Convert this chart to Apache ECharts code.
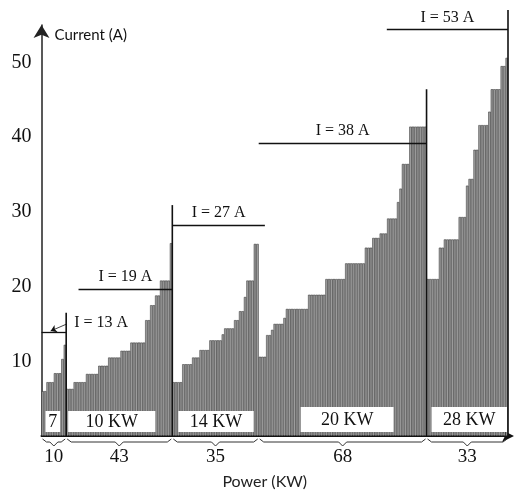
<!DOCTYPE html>
<html>
<head>
<meta charset="utf-8">
<script src="https://cdn.jsdelivr.net/npm/echarts@6/dist/echarts.min.js"></script>
<style>
  html, body { margin: 0; padding: 0; background: #fff; }
  #chart { width: 516px; height: 495px; }
</style>
</head>
<body>
<div id="chart"></div>
<script>
// current of every test, read group by group off the scan (A)
var group1 = [6, 6, 7.2, 7.2, 7.2, 8.4, 8.4, 8.4, 10.3, 12.2];
var group2 = [6.3, 6.3, 6.3, 7.2, 7.2, 7.2, 7.2, 7.2, 8.3, 8.3, 8.3, 8.3, 8.3,
  9.4, 9.4, 9.4, 9.4, 10.5, 10.5, 10.5, 10.5, 10.5, 11.4, 11.4, 11.4, 11.4,
  12.5, 12.5, 12.5, 12.5, 12.5, 12.5, 15.5, 15.5, 17.5, 17.5, 18.8, 18.8,
  20.8, 20.8, 20.8, 20.8, 25.8];
var group3 = [7.2, 7.2, 7.2, 7.2, 9.6, 9.6, 9.6, 9.6, 10.5, 10.5, 10.5,
  11.5, 11.5, 11.5, 11.5, 12.8, 12.8, 12.8, 12.8, 12.8, 13.6, 14.4, 14.4, 14.4, 14.4,
  15.5, 15.5, 16.7, 16.7, 18.6, 20.8, 20.8, 20.8, 25.7, 25.7];
var group4 = [10.6, 10.6, 10.6, 13.5, 13.5, 14.2, 15, 15, 15, 15, 15.8,
  17, 17, 17, 17, 17, 17, 17, 17, 17, 18.9, 18.9, 18.9, 18.9, 18.9, 18.9, 18.9,
  21, 21, 21, 21, 21, 21, 21, 21, 23.1, 23.1, 23.1, 23.1, 23.1, 23.1, 23.1, 23.1,
  25.2, 25.2, 25.2, 26.5, 26.5, 26.5, 27.1, 27.1, 27.1, 29.1, 29.1, 29.1, 29.1,
  31.3, 33.1, 36.4, 36.4, 36.4, 41.4, 41.4, 41.4, 41.4, 41.4, 41.4, 41.4];
var group5 = [21, 21, 21, 21, 21, 25.2, 25.2, 26.3, 26.3, 26.3, 26.3, 26.3, 26.3,
  29.3, 29.3, 29.3, 33.5, 34.4, 34.4, 38.3, 38.3, 41.6, 41.6, 41.6, 41.6, 43.4,
  46.4, 46.4, 46.4, 46.4, 49.5, 49.5, 50.6];

var groupSizes = [10, 43, 35, 68, 33];
var groupPower = ['7', '10 KW', '14 KW', '20 KW', '28 KW'];
var groupPeaks = [16.5, 30.9, 0, 46.4, 57];   // tall marker at the end of a group (0 = none)

var limitNames = ['I = 13 A', 'I = 19 A', 'I = 27 A', 'I = 38 A', 'I = 53 A'];
var limitLevels = [13.9, 19.7, 28.2, 39.2, 54.4];
var limitFrom = [-0.5, 14.5, 52.5, 87.5, 139.4];   // in bar numbers
var limitTo = [9.5, 52.5, 90, 155.5, 188.5];

var currentTicks = [10, 20, 30, 40, 50];

var values = group1.concat(group2, group3, group4, group5);
var categories = values.map(function (v, i) { return String(i + 1); });

// first / last bar of each group
var groupRanges = [];
var k = 0;
groupSizes.forEach(function (n) { groupRanges.push([k, k + n - 1]); k += n; });

// white label boxes: px inset from the group's left / right edge, px height
var boxInset = [[4, 6], [2, 17], [6, 5], [42, 33], [5, 1]];
var boxHeight = [25, 25, 25, 29, 29];

var serif = '"Liberation Serif", "Times New Roman", serif';

function renderGroup(params, api) {
  var i = params.dataIndex;
  var left = api.coord([api.value(0) - 0.5, 0])[0];
  var right = api.coord([api.value(1) + 0.5, 0])[0];
  var base = api.coord([0, 0])[1];
  var bx0 = left + boxInset[i][0], bx1 = right - boxInset[i][1];
  var by0 = base - boxHeight[i], by1 = base - 4;
  var mid = (left + right) / 2;
  var y0 = base + 3;
  var l = left + 1, r = right - 1;
  var kids = [
    { type: 'rect', shape: { x: bx0, y: by0, width: bx1 - bx0, height: by1 - by0 },
      style: { fill: '#fff' } },
    { type: 'text', style: { text: groupPower[i], x: (bx0 + bx1) / 2, y: (by0 + by1) / 2 + 1,
      font: '18px ' + serif, fill: '#111', align: 'center', verticalAlign: 'middle' } },
    { type: 'polyline', shape: { points: [[l, y0], [l + 4, y0 + 3], [mid - 4, y0 + 3],
      [mid, y0 + 7], [mid + 4, y0 + 3], [r - 4, y0 + 3], [r, y0]] },
      style: { stroke: '#333', lineWidth: 1, fill: null } },
    { type: 'text', style: { text: String(groupSizes[i]), x: mid, y: base + 21,
      font: '19px ' + serif, fill: '#111', align: 'center', verticalAlign: 'middle' } }
  ];
  if (groupPeaks[i] > 0) {
    var top = api.coord([api.value(1) + 0.5, groupPeaks[i]]);
    kids.push({ type: 'line', shape: { x1: top[0], y1: base, x2: top[0], y2: top[1] },
      style: { stroke: '#111', lineWidth: 1.6 } });
  }
  return { type: 'group', children: kids };
}

var lines = [];
limitNames.forEach(function (name, i) {
  var lab = { show: true, formatter: name, position: 'insideMiddleTop', distance: 4,
    fontFamily: serif, fontSize: 16, color: '#111' };
  if (i === 0) {
    lab = { show: true, formatter: name, position: 'end', distance: 8, offset: [0, -9],
      fontFamily: serif, fontSize: 16, color: '#111' };
  }
  lines.push([{ coord: [limitFrom[i], limitLevels[i]], label: lab },
              { coord: [limitTo[i], limitLevels[i]] }]);
});
// little pointer from the 13 A label to its line
lines.push([{ coord: [9.8, 15.0], symbol: 'none', label: { show: false }, lineStyle: { width: 0.8 } },
            { coord: [3.2, 14.05], symbol: 'arrow', symbolSize: 6 }]);

var myChart = echarts.init(document.getElementById('chart'));

var option = {
  animation: false,
  grid: { left: 41.5, right: 8, top: 25, bottom: 52 },
  xAxis: [
    {
      type: 'category',
      data: categories,
      axisLine: { onZero: false, symbol: ['none', 'arrow'], symbolSize: [9, 12], symbolOffset: [0, 6],
        lineStyle: { color: '#111', width: 2 } },
      axisTick: { show: false },
      axisLabel: { show: false },
      name: 'Power (KW)',
      nameLocation: 'middle',
      nameGap: 38,
      nameTextStyle: { fontFamily: 'Lato', fontSize: 16, color: '#222', padding: [0, 20, 0, 0] }
    },
    { type: 'value', min: -0.5, max: values.length - 0.5, show: false }
  ],
  yAxis: {
    type: 'value',
    min: 0,
    max: 55,
    interval: 10,
    axisLine: { show: true, onZero: false, symbol: ['none', 'arrow'], symbolSize: [12, 13],
      lineStyle: { color: '#222', width: 1.5 } },
    axisTick: { show: false },
    splitLine: { show: false },
    axisLabel: {
      margin: 10, fontFamily: serif, fontSize: 20, color: '#111',
      formatter: function (v) { return currentTicks.indexOf(v) >= 0 ? String(v) : ''; }
    },
    name: 'Current (A)',
    nameLocation: 'end',
    nameGap: -10,
    nameTextStyle: { fontFamily: 'Lato', fontSize: 15, color: '#111', align: 'left',
      verticalAlign: 'middle', padding: [0, 0, 0, 13] }
  },
  series: [
    {
      type: 'bar',
      data: values,
      barCategoryGap: '0%',
      silent: true,
      itemStyle: { color: '#9f9f9f', borderColor: '#2a2a2a', borderWidth: 0.5 }
    },
    {
      type: 'custom',
      xAxisIndex: 1,
      data: groupRanges,
      renderItem: renderGroup,
      silent: true,
      clip: false,
      z: 4,
      markLine: {
        silent: true,
        symbol: ['none', 'none'],
        lineStyle: { color: '#111', width: 1.3, type: 'solid' },
        data: lines
      }
    }
  ]
};

myChart.setOption(option);
</script>
</body>
</html>
